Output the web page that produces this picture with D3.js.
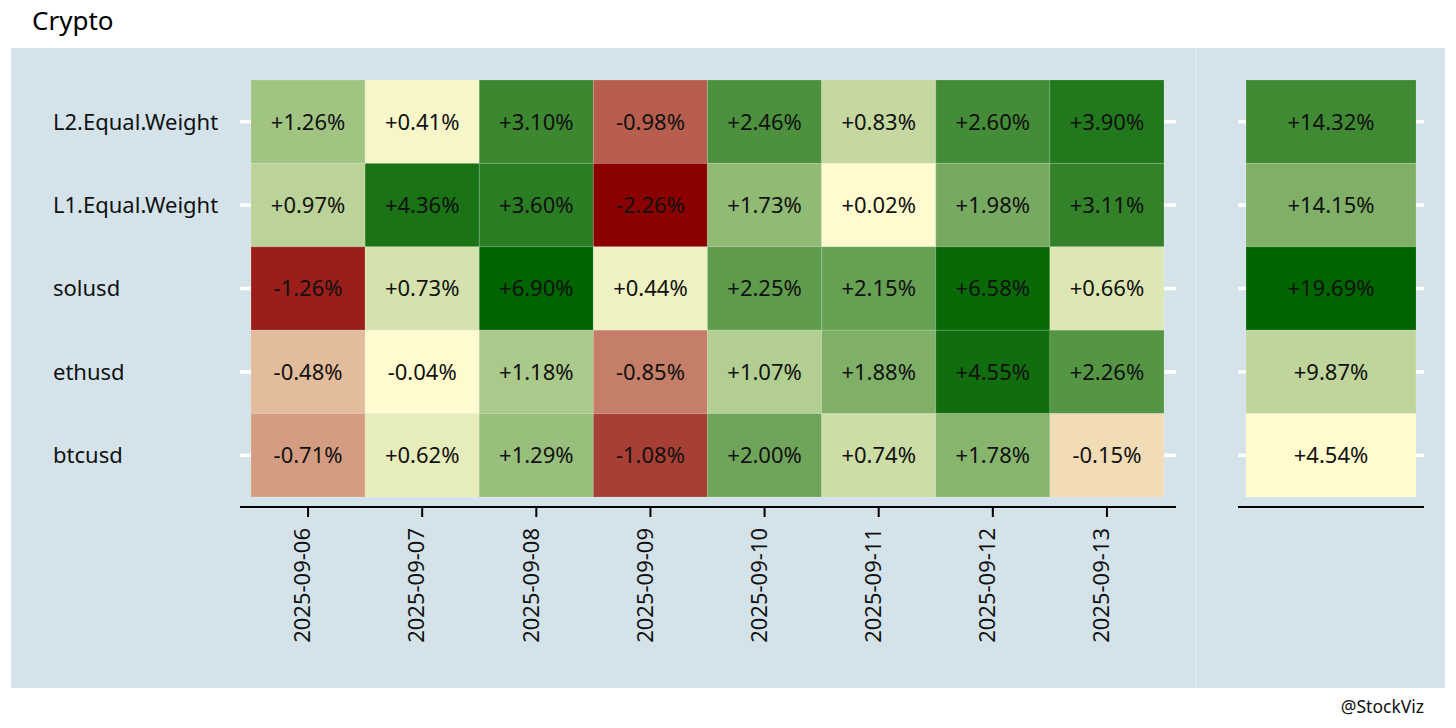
<!DOCTYPE html>
<html>
<head>
<meta charset="utf-8">
<script src="https://cdn.jsdelivr.net/npm/d3@7"></script>
<style>
  html, body { margin: 0; padding: 0; background: #ffffff; }
  svg { display: block; font-family: "Noto Sans", "Open Sans", sans-serif; }
</style>
</head>
<body>
<svg id="chart" width="1456" height="728"></svg>
<script>
// ---- data ----
const dates = ["2025-09-06", "2025-09-07", "2025-09-08", "2025-09-09", "2025-09-10", "2025-09-11", "2025-09-12", "2025-09-13"];
const rows = ["L2.Equal.Weight", "L1.Equal.Weight", "solusd", "ethusd", "btcusd"];
const L2EqualWeight = [1.26, 0.41, 3.10, -0.98, 2.46, 0.83, 2.60, 3.90];
const L1EqualWeight = [0.97, 4.36, 3.60, -2.26, 1.73, 0.02, 1.98, 3.11];
const solusd = [-1.26, 0.73, 6.90, 0.44, 2.25, 2.15, 6.58, 0.66];
const ethusd = [-0.48, -0.04, 1.18, -0.85, 1.07, 1.88, 4.55, 2.26];
const btcusd = [-0.71, 0.62, 1.29, -1.08, 2.00, 0.74, 1.78, -0.15];
const totals = [14.32, 14.15, 19.69, 9.87, 4.54];
const title = "Crypto";
const caption = "@StockViz";

// ---- build cells ----
const seriesByRow = [L2EqualWeight, L1EqualWeight, solusd, ethusd, btcusd];
const cells = [];
rows.forEach((r, i) => seriesByRow[i].forEach((v, j) => cells.push({row: r, date: dates[j], value: v})));
const totalCells = rows.map((r, i) => ({row: r, value: totals[i]}));

// ---- colours (rank-based diverging) ----
const cLight = "#fffbcf", cRed = "#8b0000", cGreen = "#006400";
function rankScale(values, c0, c1) {
  const s = Array.from(new Set(values)).sort((a, b) => Math.abs(a) - Math.abs(b));
  const n = s.length;
  const dom = s.slice().sort((a, b) => a - b);
  const cols = dom.map(v => {
    const idx = s.indexOf(v);
    return d3.interpolateRgb(c0, c1)(n > 1 ? idx / (n - 1) : 0);
  });
  return d3.scaleLinear().domain(dom).range(cols).interpolate(d3.interpolateRgb).clamp(true);
}
const allVals = cells.map(d => d.value);
const posScale = rankScale(allVals.filter(v => v >= 0), cLight, cGreen);
const negScale = rankScale(allVals.filter(v => v < 0), cLight, cRed);
const colorLeft = v => v >= 0 ? posScale(v) : negScale(v);
const totScale = rankScale(totals, cLight, cGreen);

const fmt = v => (v >= 0 ? "+" : "-") + Math.abs(v).toFixed(2) + "%";

// ---- layout ----
const svg = d3.select("#chart");
const W = 1456, H = 728;
svg.append("rect").attr("width", W).attr("height", H).attr("fill", "#ffffff");

// panel background
svg.append("rect").attr("x", 11).attr("y", 48).attr("width", 1434).attr("height", 640).attr("fill", "#d4e3ea");
svg.append("line").attr("x1", 1196).attr("x2", 1196).attr("y1", 48).attr("y2", 688)
  .attr("stroke", "#dde8ee").attr("stroke-width", 2);

const x = d3.scaleBand().domain(dates).range([251, 1164]).padding(0);
const y = d3.scaleBand().domain(rows).range([80, 497]).padding(0);
const x2 = d3.scaleBand().domain(["total"]).range([1246, 1416]).padding(0);

const fs = 22;

// white y ticks
const yTickSegs = [[240, 251], [1164, 1176], [1238, 1246], [1416, 1424]];
yTickSegs.forEach(([a, b]) => {
  svg.append("g").selectAll("line").data(rows).join("line")
    .attr("x1", a).attr("x2", b)
    .attr("y1", d => y(d) + y.bandwidth() / 2).attr("y2", d => y(d) + y.bandwidth() / 2)
    .attr("stroke", "#ffffff").attr("stroke-width", 3.5);
});

// left tiles
svg.append("g").selectAll("rect").data(cells).join("rect")
  .attr("x", d => x(d.date)).attr("y", d => y(d.row))
  .attr("width", x.bandwidth()).attr("height", y.bandwidth())
  .attr("fill", d => colorLeft(d.value))
  .attr("stroke", "rgba(255,255,255,0.15)").attr("stroke-width", 1);

svg.append("g").selectAll("text").data(cells).join("text")
  .attr("x", d => x(d.date) + x.bandwidth() / 2)
  .attr("y", d => y(d.row) + y.bandwidth() / 2)
  .attr("dy", "0.36em").attr("text-anchor", "middle")
  .attr("font-size", fs).attr("fill", "#111111")
  .text(d => fmt(d.value));

// right tiles
svg.append("g").selectAll("rect").data(totalCells).join("rect")
  .attr("x", x2("total")).attr("y", d => y(d.row))
  .attr("width", x2.bandwidth()).attr("height", y.bandwidth())
  .attr("fill", d => totScale(d.value))
  .attr("stroke", "rgba(255,255,255,0.15)").attr("stroke-width", 1);

svg.append("g").selectAll("text").data(totalCells).join("text")
  .attr("x", x2("total") + x2.bandwidth() / 2)
  .attr("y", d => y(d.row) + y.bandwidth() / 2)
  .attr("dy", "0.36em").attr("text-anchor", "middle")
  .attr("font-size", fs).attr("fill", "#111111")
  .text(d => fmt(d.value));

// row labels
svg.append("g").selectAll("text").data(rows).join("text")
  .attr("x", 53).attr("y", d => y(d) + y.bandwidth() / 2)
  .attr("dy", "0.36em").attr("font-size", fs).attr("fill", "#111111")
  .text(d => d);

// x axes
svg.append("line").attr("x1", 240).attr("x2", 1176).attr("y1", 507).attr("y2", 507)
  .attr("stroke", "#000").attr("stroke-width", 2);
svg.append("line").attr("x1", 1238).attr("x2", 1424).attr("y1", 507).attr("y2", 507)
  .attr("stroke", "#000").attr("stroke-width", 2);

svg.append("g").selectAll("line").data(dates).join("line")
  .attr("x1", d => x(d) + x.bandwidth() / 2).attr("x2", d => x(d) + x.bandwidth() / 2)
  .attr("y1", 507).attr("y2", 517)
  .attr("stroke", "#000").attr("stroke-width", 2);

svg.append("g").selectAll("text").data(dates).join("text")
  .attr("transform", d => `translate(${x(d) + x.bandwidth() / 2},528) rotate(-90)`)
  .attr("text-anchor", "end").attr("dy", "0.1em")
  .attr("font-size", fs).attr("fill", "#111111")
  .text(d => d);

// title & caption
svg.append("text").attr("x", 32).attr("y", 30).attr("font-size", 26).attr("fill", "#000").text(title);
svg.append("text").attr("x", 1424).attr("y", 713).attr("text-anchor", "end")
  .attr("font-size", 17.5).attr("fill", "#111").text(caption);
</script>
</body>
</html>
